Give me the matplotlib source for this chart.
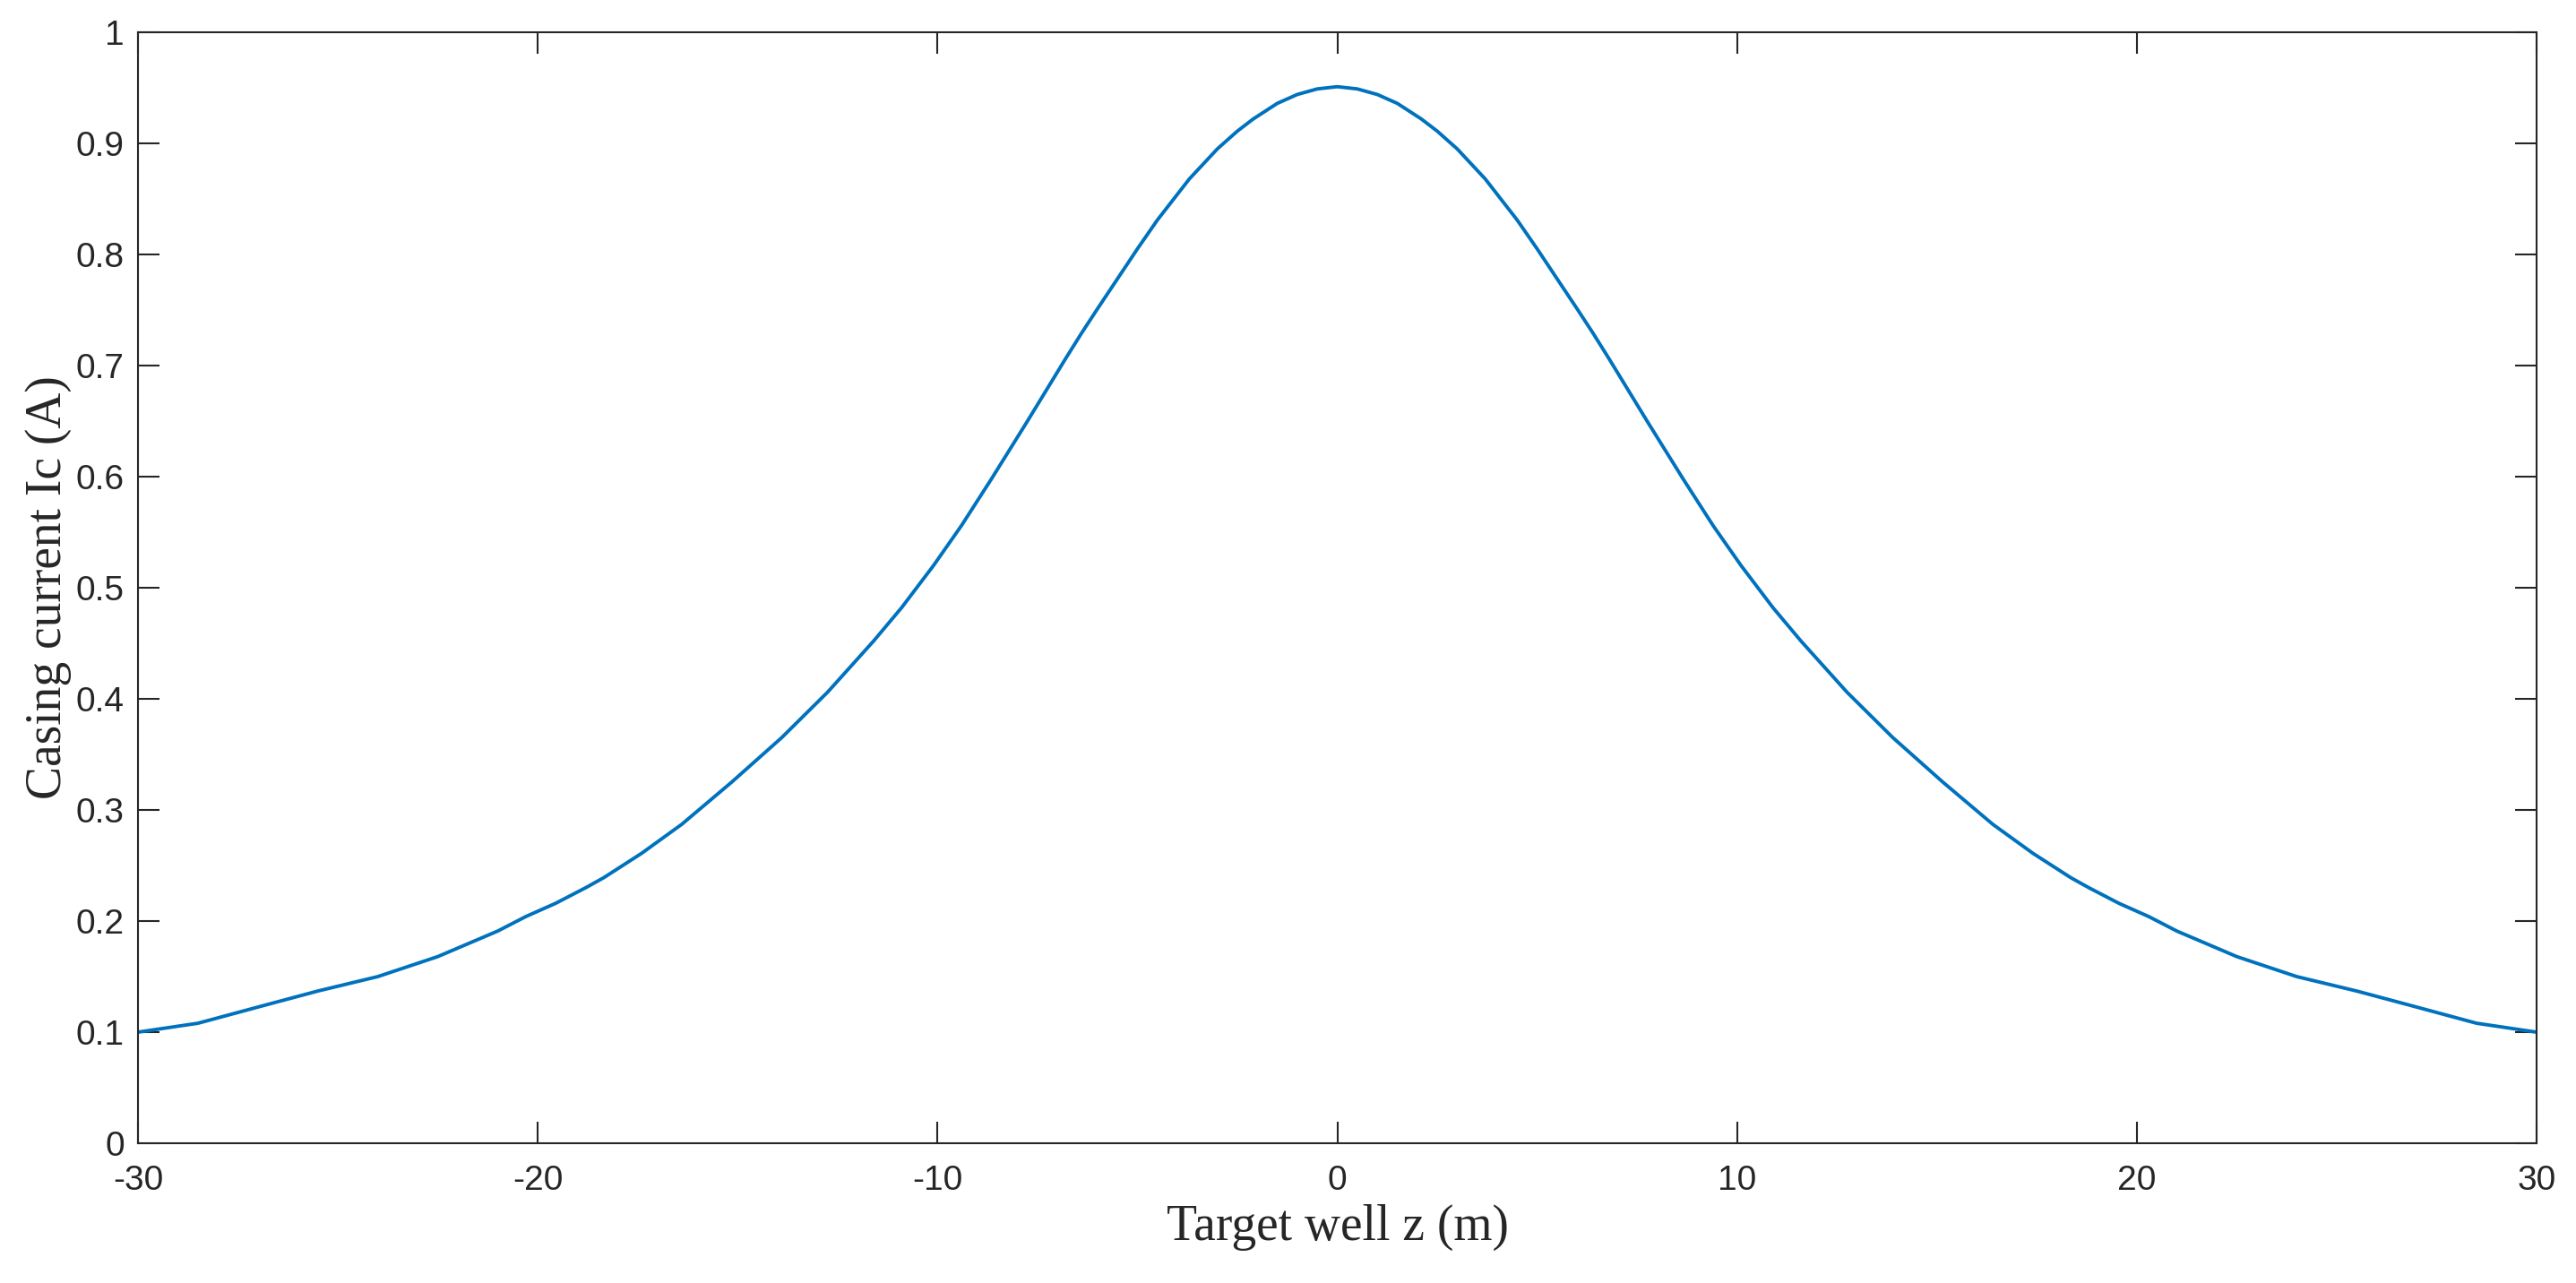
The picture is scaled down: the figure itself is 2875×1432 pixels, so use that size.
import numpy as np
import matplotlib
matplotlib.use("Agg")
import matplotlib.pyplot as plt

plt.rcParams["axes.unicode_minus"] = False

# values (left half, peak, right half)
z_left = [-30.0, -28.5, -26.8, -25.5, -24.0, -22.5, -21.0, -20.3, -19.55, -18.8,
          -18.35, -17.4, -16.4, -15.15, -13.9, -12.75, -11.6, -10.9, -10.1, -9.4,
          -8.65, -7.75, -6.8, -6.4, -6.0, -5.5, -5.0, -4.5, -3.7, -3.0, -2.5,
          -2.1, -1.5, -1.0, -0.5]
ic_left = [0.100, 0.108, 0.1245, 0.137, 0.150, 0.168, 0.191, 0.204, 0.216, 0.230,
           0.239, 0.261, 0.287, 0.325, 0.365, 0.406, 0.452, 0.482, 0.520, 0.556,
           0.598, 0.650, 0.706, 0.729, 0.751, 0.778, 0.805, 0.831, 0.868, 0.895, 0.911,
           0.922, 0.936, 0.944, 0.949]
z_peak = [0.0]
ic_peak = [0.951]
z_right = [0.5, 1.0, 1.5, 2.1, 2.5, 3.0, 3.7, 4.5, 5.0, 5.5, 6.0, 6.4, 6.8, 7.75,
           8.65, 9.4, 10.1, 10.9, 11.6, 12.75, 13.9, 15.15, 16.4, 17.4, 18.35, 18.8,
           19.55, 20.3, 21.0, 22.5, 24.0, 25.5, 26.8, 28.5, 30.0]
ic_right = [0.949, 0.944, 0.936, 0.922, 0.911, 0.895, 0.868, 0.831, 0.805, 0.778,
            0.751, 0.729, 0.706, 0.650, 0.598, 0.556, 0.520, 0.482, 0.452, 0.406,
            0.365, 0.325, 0.287, 0.261, 0.239, 0.230, 0.216, 0.204, 0.191, 0.168,
            0.150, 0.137, 0.1245, 0.108, 0.100]

z = np.array(z_left + z_peak + z_right)
ic = np.array(ic_left + ic_peak + ic_right)

xticks = [-30, -20, -10, 0, 10, 20, 30]
yticks = [0, 0.1, 0.2, 0.3, 0.4, 0.5, 0.6, 0.7, 0.8, 0.9, 1]
ytick_labels = ["0", "0.1", "0.2", "0.3", "0.4", "0.5", "0.6", "0.7", "0.8", "0.9", "1"]

fig = plt.figure(figsize=(28.75, 14.32), dpi=100)
ax = fig.add_axes([154/2875, 1-1276/1432, (2831-154)/2875, (1276-36)/1432])

ax.plot(z, ic, color="#0072BD", lw=2.8, solid_joinstyle="round")

ax.set_xlim(-30, 30)
ax.set_ylim(0, 1)
ax.set_xticks(xticks)
ax.set_xticklabels([str(t) for t in xticks])
ax.set_yticks(yticks)
ax.set_yticklabels(ytick_labels)

for s in ax.spines.values():
    s.set_linewidth(1.5)
    s.set_color("#262626")
ax.tick_params(direction="in", length=17, width=1.5, color="#262626",
               top=True, right=True, labelsize=28, labelcolor="#262626")
ax.tick_params(axis="x", pad=17)
ax.tick_params(axis="y", pad=11)
for lab in ax.get_xticklabels() + ax.get_yticklabels():
    lab.set_family("Liberation Sans")

ax.set_xlabel("Target well z (m)", family="Liberation Serif", fontsize=40,
              color="#262626", labelpad=6)
ax.set_ylabel("Casing current Ic (A)", family="Liberation Serif", fontsize=40,
              color="#262626", labelpad=3)

fig.savefig("out.png", dpi=100, facecolor="white")
